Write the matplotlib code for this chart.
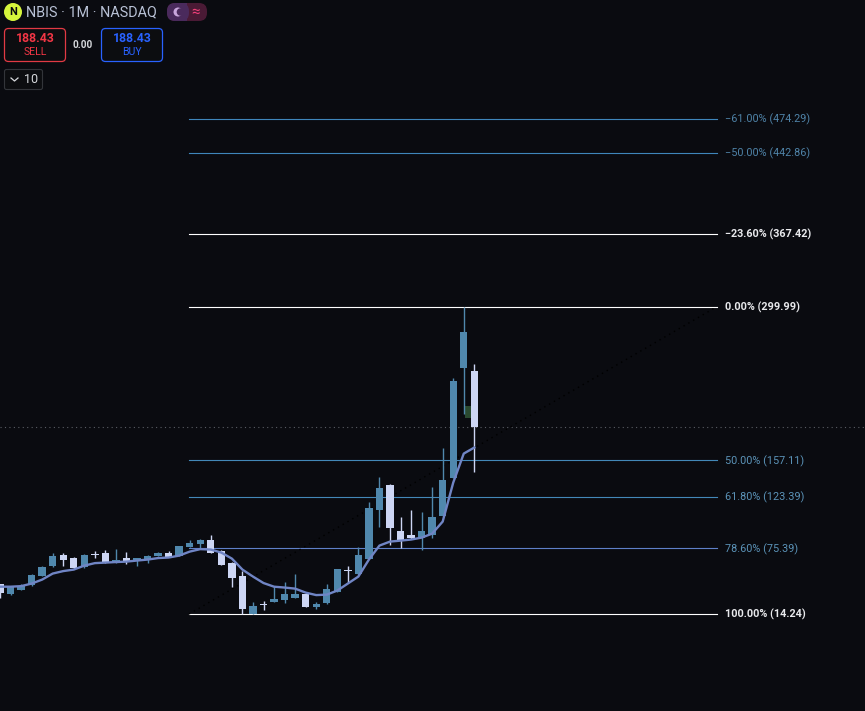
import matplotlib
matplotlib.use("Agg")
import matplotlib.pyplot as plt
from matplotlib.patches import FancyBboxPatch, Circle, Rectangle


# Monthly candles
opens = [42.3, 33.2, 37.0, 41.0, 50.0, 58.7, 69.5, 66.8, 57.8, 69.8, 71.4, 62.4, 66.8, 64.6, 65.8, 68.6,
         71.4, 68.6, 77.0, 79.8, 83.5, 73.3, 62.1, 50.0, 14.7, 22.8, 25.9, 27.7, 29.6, 33.3, 21.2, 24.9,
         35.2, 54.7, 51.9, 65.8, 111.3, 134.6, 91.8, 88.1, 85.3, 88.1, 105.8, 141.1, 243.3, 240.5]
closes = [34.2, 39.4, 40.7, 50.9, 58.4, 68.6, 64.9, 57.5, 69.5, 69.5, 61.8, 64.9, 63.3, 66.8, 68.6, 71.4,
          67.7, 77.9, 80.7, 83.5, 71.4, 60.2, 48.2, 19.3, 22.1, 22.5, 28.6, 33.3, 33.3, 21.2, 24.0, 37.9,
          56.5, 54.4, 69.5, 113.2, 131.8, 94.6, 83.5, 85.3, 91.8, 104.8, 139.2, 231.2, 276.8, 188.5]
highs = [42.6, 39.7, 42.6, 51.9, 59.3, 71.4, 71.4, 67.2, 70.4, 73.3, 74.2, 75.1, 72.3, 66.8, 69.5, 72.3,
         73.3, 77.9, 83.5, 84.4, 88.1, 74.2, 63.0, 54.7, 25.9, 26.8, 40.7, 44.4, 51.9, 33.3, 25.9, 42.6,
         56.5, 59.3, 77.0, 118.8, 142.0, 135.5, 104.8, 111.3, 109.5, 132.7, 169.0, 234.0, 300.0, 247.0]
lows = [28.9, 32.3, 37.0, 40.7, 50.0, 57.8, 59.3, 56.5, 57.5, 66.8, 61.6, 62.1, 61.2, 59.3, 62.1, 68.0,
        67.7, 68.0, 77.0, 76.0, 71.4, 60.2, 39.7, 14.7, 14.7, 18.4, 25.9, 24.9, 29.6, 21.2, 19.3, 24.0,
        35.2, 44.4, 50.9, 65.8, 95.6, 78.8, 76.0, 84.4, 74.2, 85.3, 105.8, 141.1, 200.6, 146.7]

# Moving average on the same candles
ema = [39.7, 39.7, 40.2, 42.6, 46.3, 51.9, 54.2, 55.6, 59.3, 61.6, 62.1, 62.6, 63.0, 64.0, 64.9, 66.3,
       66.8, 68.6, 72.3, 74.6, 74.2, 71.4, 65.8, 55.6, 49.1, 43.1, 39.7, 38.9, 37.9, 34.2, 31.9, 32.3,
       36.1, 42.6, 49.1, 64.9, 77.9, 81.6, 82.5, 83.5, 85.3, 89.0, 100.2, 136.4, 163.4, 169.0]

# Fibonacci levels
fib_labels = ["\u221261.00%", "\u221250.00%", "\u221223.60%", "0.00%", "50.00%", "61.80%", "78.60%", "100.00%"]
fib_prices = [474.29, 442.86, 367.42, 299.99, 157.11, 123.39, 75.39, 14.24]
fib_line_colors = ["#3f86bb", "#3f86bb", "#ffffff", "#ffffff", "#4388b8", "#4388b8", "#5f80c8", "#ffffff"]
fib_text_colors = ["#4f83a8", "#4f83a8", "#e8e9ec", "#e8e9ec", "#5b93b8", "#5b93b8", "#5b93b8", "#e8e9ec"]

last_price = 188.43

BG = "#0a0b10"
BLUE = "#5088ad"
WHITE = "#cdd6f4"
PX = 10.54  # pixels per candle
FONT = "Roboto"

plt.rcParams["font.family"] = [FONT, "DejaVu Sans"]

fig = plt.figure(figsize=(8.65, 7.11), dpi=100, facecolor=BG)

ax = fig.add_axes([0, 0, 1, 1])
ax.set_facecolor(BG)
ax.set_xlim(0, 865 / PX)
ax.set_ylim(-75.82, 584.91)
ax.axis("off")

# Last price line and the faint diagonal of the fib tool
ax.axhline(last_price, color="#5a5d64", lw=0.8, dashes=(1, 3), zorder=1)
ax.plot([189 / PX, 717 / PX], [14.24, 299.99], color="#000000", lw=1.0, dashes=(1, 3), zorder=3)

# Fib lines and labels
for label, price, lc, tc in zip(fib_labels, fib_prices, fib_line_colors, fib_text_colors):
    ax.plot([189 / PX, 717 / PX], [price, price], color=lc, lw=0.8, zorder=2)
    ax.text(725 / PX, price - 0.5, f"{label} ({price:.2f})", color=tc, fontsize=7.8,
            va="center", ha="left", fontweight="bold" if tc == "#e8e9ec" else "normal")

# Candles
for i in range(len(opens)):
    color = BLUE if closes[i] >= opens[i] else WHITE
    ax.plot([i, i], [lows[i], highs[i]], color=color, lw=1.0, zorder=4, solid_capstyle="butt")
    bottom = min(opens[i], closes[i])
    height = max(abs(closes[i] - opens[i]), 0.9)
    ax.add_patch(Rectangle((i - 0.35, bottom), 0.7, height, facecolor=color, edgecolor="none", zorder=4))

# Green marker beside the last candle
ax.add_patch(Rectangle((44.1, 196.0), 0.55, 11.2, facecolor="#2a4a30", edgecolor="none", zorder=3))

ax.plot(range(len(ema)), ema, color="#7085c5", lw=1.7, zorder=5, solid_joinstyle="round")

# Header, drawn in pixel coordinates
ui = fig.add_axes([0, 0, 1, 1])
ui.set_xlim(0, 865)
ui.set_ylim(711, 0)
ui.axis("off")
ui.patch.set_alpha(0)

ui.add_patch(Circle((13, 12), 9, facecolor="#d6f53c", edgecolor="none"))
ui.text(13, 12, "N", color="#0a0b10", fontsize=8, fontweight="bold", ha="center", va="center")
ui.text(26, 12, "NBIS \u00b7 1M \u00b7 NASDAQ", color="#b9c2d6", fontsize=10.4, va="center", ha="left")

ui.add_patch(FancyBboxPatch((167, 3), 40, 18, boxstyle="round,pad=0,rounding_size=8",
                            facecolor="#4a1a35", edgecolor="none"))
ui.add_patch(FancyBboxPatch((167, 3), 22, 18, boxstyle="round,pad=0,rounding_size=8",
                            facecolor="#4a2a5c", edgecolor="none"))
ui.add_patch(Rectangle((180, 3), 7, 18, facecolor="#4a2a5c", edgecolor="none"))
ui.add_patch(Circle((178, 12), 4.5, facecolor="#c9a6dc", edgecolor="none"))
ui.add_patch(Circle((180.5, 12), 3.8, facecolor="#4a2a5c", edgecolor="none"))
ui.text(196, 11.5, "\u2248", color="#f0407a", fontsize=11, ha="center", va="center")

ui.add_patch(FancyBboxPatch((4.5, 28.5), 61, 33, boxstyle="round,pad=0,rounding_size=4",
                            facecolor="#0c0d10", edgecolor="#e23a44", lw=0.9))
ui.text(35, 38, "188.43", color="#f23645", fontsize=8.8, fontweight="bold", ha="center", va="center")
ui.text(35, 52, "SELL", color="#f23645", fontsize=7.6, ha="center", va="center")
ui.text(83, 44.5, "0.00", color="#d6d8dc", fontsize=7.2, fontweight="bold", ha="center", va="center")
ui.add_patch(FancyBboxPatch((101.5, 28.5), 61, 33, boxstyle="round,pad=0,rounding_size=4",
                            facecolor="#0c0d10", edgecolor="#2962ff", lw=0.9))
ui.text(132, 38, "188.43", color="#2962ff", fontsize=8.8, fontweight="bold", ha="center", va="center")
ui.text(132, 52, "BUY", color="#2962ff", fontsize=7.6, ha="center", va="center")

ui.add_patch(FancyBboxPatch((4.5, 69.5), 38, 20, boxstyle="round,pad=0,rounding_size=2",
                            facecolor="#0c0d10", edgecolor="#33353a", lw=0.8))
ui.plot([11, 14.5, 18], [78, 81, 78], color="#d6d8dc", lw=0.9)
ui.text(24, 79.5, "10", color="#d6d8dc", fontsize=9, ha="left", va="center")

fig.savefig("out.png", dpi=100, facecolor=BG)
